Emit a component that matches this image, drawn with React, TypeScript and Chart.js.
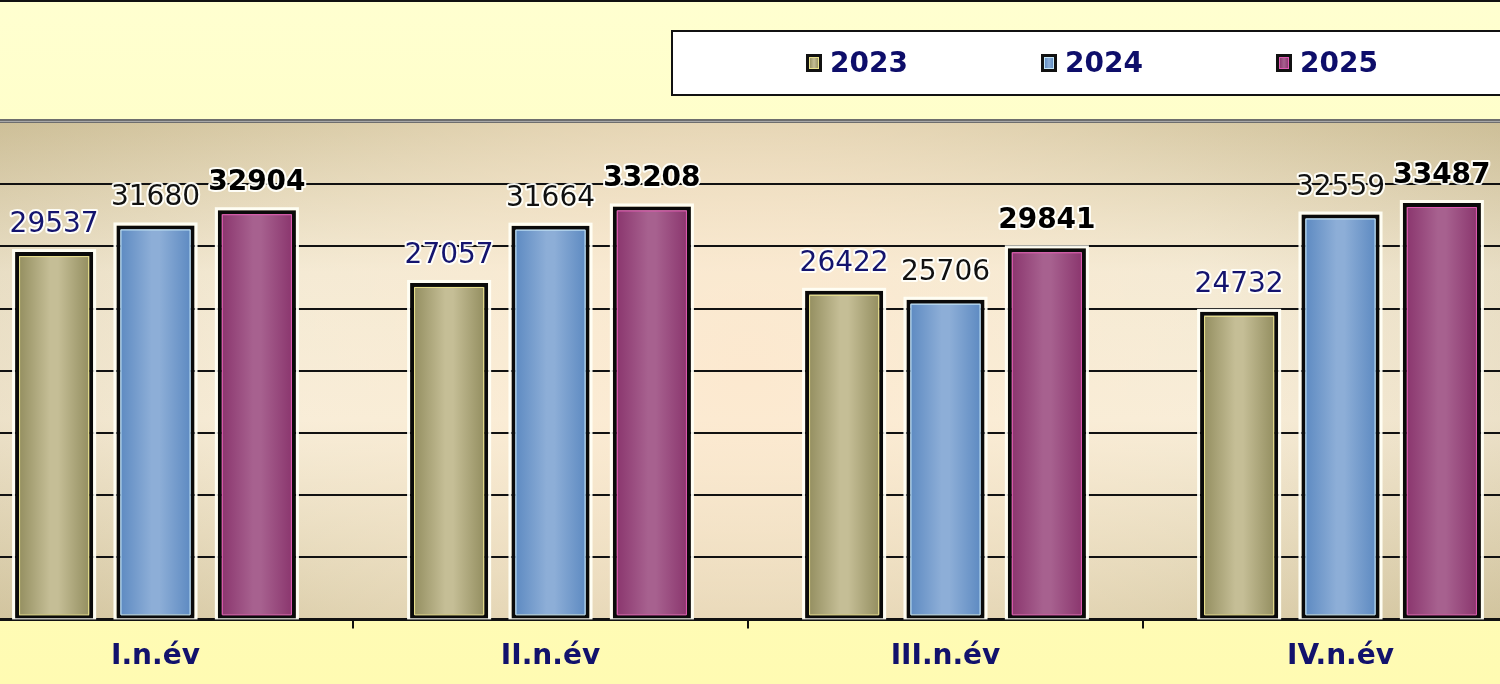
import React, { useEffect, useRef } from "react";
import { Chart, registerables } from "chart.js";

Chart.register(...registerables);

const categories = ["I.n.év", "II.n.év", "III.n.év", "IV.n.év"];
const seriesLabels = ["2023", "2024", "2025"];
const values2023 = [29537, 27057, 26422, 24732];
const values2024 = [31680, 31664, 25706, 32559];
const values2025 = [32904, 33208, 29841, 33487];
const yMin = 0;
const yMax = 40000;
const yStep = 5000;

const FONT = "'DejaVu Sans', Verdana, sans-serif";
const CAT_PCT = 0.77;
const BAR_PCT = 0.77;

// edge, center, inner highlight
const palettes = [
  { edge: "#8e895a", center: "#c5be96", inner: "#ece48e", label: "#14146e", weight: "normal" },
  { edge: "#5886bf", center: "#8daed7", inner: "#c4e6f7", label: "#111111", weight: "normal" },
  { edge: "#87316a", center: "#a7618f", inner: "#e25bb4", label: "#000000", weight: "bold" },
];

function barGradient(ctx: any, di: number) {
  const chart = ctx.chart;
  const xs = chart.scales && chart.scales.x;
  const p = palettes[di];
  if (!xs || ctx.type !== "data" || !isFinite(xs.width) || xs.width <= 0) return p.center;
  const cw = xs.width / categories.length;
  const pitch = (cw * CAT_PCT) / seriesLabels.length;
  const bw = pitch * BAR_PCT;
  const cx = xs.getPixelForValue(ctx.dataIndex) + (di - (seriesLabels.length - 1) / 2) * pitch;
  const g = chart.ctx.createLinearGradient(cx - bw / 2, 0, cx + bw / 2, 0);
  g.addColorStop(0, p.edge);
  g.addColorStop(0.45, p.center);
  g.addColorStop(0.55, p.center);
  g.addColorStop(1, p.edge);
  return g;
}

const backgroundPlugin = {
  id: "bgPlugin",
  beforeDraw(chart: any) {
    const { ctx, width, height, chartArea } = chart;
    ctx.save();
    const pg = ctx.createLinearGradient(0, 0, 0, 684);
    pg.addColorStop(0, "#ffffd0");
    pg.addColorStop(1, "#fffbb2");
    ctx.fillStyle = pg;
    ctx.fillRect(0, 0, width, height);
    // top black line
    ctx.fillStyle = "#111";
    ctx.fillRect(0, 0, width, 2);
    const { left, top, right, bottom } = chartArea;
    const lg = ctx.createLinearGradient(0, top, 0, bottom);
    lg.addColorStop(0, "#cfc19a");
    lg.addColorStop(0.3, "#f1e8d3");
    lg.addColorStop(0.6, "#f6ecd8");
    lg.addColorStop(1, "#d5c8a3");
    ctx.fillStyle = lg;
    ctx.fillRect(left, top, right - left, bottom - top);
    const cx = (left + right) / 2;
    const cy = (top + bottom) / 2;
    const rg = ctx.createRadialGradient(cx, cy, 0, cx, cy, (right - left) / 2);
    rg.addColorStop(0, "rgba(255,232,205,0.75)");
    rg.addColorStop(0.6, "rgba(255,240,215,0.25)");
    rg.addColorStop(1, "rgba(200,185,145,0.25)");
    ctx.fillStyle = rg;
    ctx.fillRect(left, top, right - left, bottom - top);
    ctx.restore();
  },
  afterDraw(chart: any) {
    const { ctx, chartArea } = chart;
    ctx.save();
    // top border of plot area
    ctx.fillStyle = "#6e6e6e";
    ctx.fillRect(chartArea.left, chartArea.top - 3, chartArea.right - chartArea.left, 4);
    ctx.fillStyle = "#a8a8a8";
    ctx.fillRect(chartArea.left, chartArea.top - 1, chartArea.right - chartArea.left, 1);
    ctx.restore();
  },
};

const barDecorPlugin = {
  id: "barDecor",
  beforeDatasetsDraw(chart: any) {
    const ctx = chart.ctx;
    ctx.save();
    chart.data.datasets.forEach((_: any, di: number) => {
      const meta = chart.getDatasetMeta(di);
      meta.data.forEach((el: any) => {
        const w = el.width;
        const x0 = el.x - w / 2;
        ctx.strokeStyle = "rgba(255,255,245,0.95)";
        ctx.lineWidth = 3;
        ctx.strokeRect(x0 - 1.5, el.y - 1.5, w + 3, el.base - el.y + 1);
      });
    });
    ctx.restore();
  },
  afterDatasetsDraw(chart: any) {
    const ctx = chart.ctx;
    ctx.save();
    chart.data.datasets.forEach((ds: any, di: number) => {
      const meta = chart.getDatasetMeta(di);
      const p = palettes[di];
      meta.data.forEach((el: any, i: number) => {
        const w = el.width;
        const x0 = el.x - w / 2;
        // inner highlight line
        ctx.strokeStyle = p.inner;
        ctx.lineWidth = 1;
        ctx.strokeRect(x0 + 4.5, el.y + 4.5, w - 9, el.base - el.y - 8);
        // value label
        const text = String(ds.data[i]);
        ctx.font = `${p.weight} 28px ${FONT}`;
        ctx.textAlign = "center";
        ctx.textBaseline = "alphabetic";
        ctx.lineJoin = "round";
        ctx.strokeStyle = "rgba(255,255,250,0.95)";
        ctx.lineWidth = 4;
        const ty = el.y - 20;
        ctx.strokeText(text, el.x, ty);
        ctx.fillStyle = p.label;
        ctx.fillText(text, el.x, ty);
      });
    });
    ctx.restore();
  },
};

const legendPlugin = {
  id: "boxLegend",
  afterDraw(chart: any) {
    const ctx = chart.ctx;
    ctx.save();
    const bx = 713;
    const by = 30;
    const bw = chart.width - bx + 20;
    const bh = 66;
    ctx.fillStyle = "#ffffff";
    ctx.fillRect(bx, by, bw, bh);
    ctx.strokeStyle = "#111";
    ctx.lineWidth = 2;
    ctx.strokeRect(bx + 1, by + 1, bw, bh - 2);
    ctx.fillStyle = "#111";
    ctx.fillRect(bx, by + bh - 2, bw, 2);
    const itemX = [848, 1083, 1318];
    chart.data.datasets.forEach((ds: any, di: number) => {
      const p = palettes[di];
      const x = itemX[di];
      const my = 54;
      ctx.fillStyle = "#111";
      ctx.fillRect(x, my, 16, 18);
      const g = ctx.createLinearGradient(x + 3, 0, x + 13, 0);
      g.addColorStop(0, p.edge);
      g.addColorStop(0.5, p.center);
      g.addColorStop(1, p.edge);
      ctx.fillStyle = g;
      ctx.fillRect(x + 3, my + 3, 10, 12);
      ctx.strokeStyle = p.inner;
      ctx.lineWidth = 1;
      ctx.strokeRect(x + 3.5, my + 3.5, 9, 11);
      ctx.font = `bold 28px ${FONT}`;
      ctx.textAlign = "left";
      ctx.textBaseline = "alphabetic";
      ctx.fillStyle = "#0e0e6a";
      ctx.fillText(ds.label, x + 24, 72);
    });
    ctx.restore();
  },
};

export default function App() {
  const ref = useRef<HTMLCanvasElement>(null);
  useEffect(() => {
    if (!ref.current) return;
    const seriesValues = [values2023, values2024, values2025];
    const chart = new Chart(ref.current, {
      type: "bar",
      data: {
        labels: categories,
        datasets: seriesLabels.map((label, di) => ({
          label,
          data: seriesValues[di],
          backgroundColor: (ctx: any) => barGradient(ctx, di),
          borderColor: "#0a0a0a",
          borderWidth: 4,
          borderSkipped: false,
          categoryPercentage: CAT_PCT,
          barPercentage: BAR_PCT,
        })),
      },
      options: {
        responsive: false,
        animation: false,
        devicePixelRatio: 1,
        layout: { padding: { top: 122, bottom: 14, left: 0, right: 0 } },
        plugins: {
          legend: { display: false },
          tooltip: { enabled: false },
          title: { display: false },
        },
        scales: {
          x: {
            offset: true,
            grid: {
              display: true,
              offset: true,
              drawOnChartArea: false,
              drawTicks: true,
              tickLength: 9,
              color: "#111",
              lineWidth: 2,
            },
            border: { display: true, color: "#111", width: 3 },
            ticks: {
              color: "#12126c",
              font: { family: FONT, size: 28, weight: "bold" },
              padding: 12,
              maxRotation: 0,
            },
          },
          y: {
            min: yMin,
            max: yMax,
            ticks: { display: false, stepSize: yStep },
            grid: {
              drawTicks: false,
              color: "#111",
              lineWidth: 2,
            },
            border: { display: false },
          },
        },
      },
      plugins: [backgroundPlugin, barDecorPlugin, legendPlugin],
    });
    return () => chart.destroy();
  }, []);

  return (
    <div
      style={{
        position: "fixed",
        left: 0,
        top: 0,
        width: 1500,
        height: 684,
        overflow: "hidden",
        background: "#ffffd0",
      }}
    >
      <canvas
        ref={ref}
        width={1580}
        height={700}
        style={{ position: "absolute", left: -42, top: 0, width: 1580, height: 700 }}
      />
    </div>
  );
}
